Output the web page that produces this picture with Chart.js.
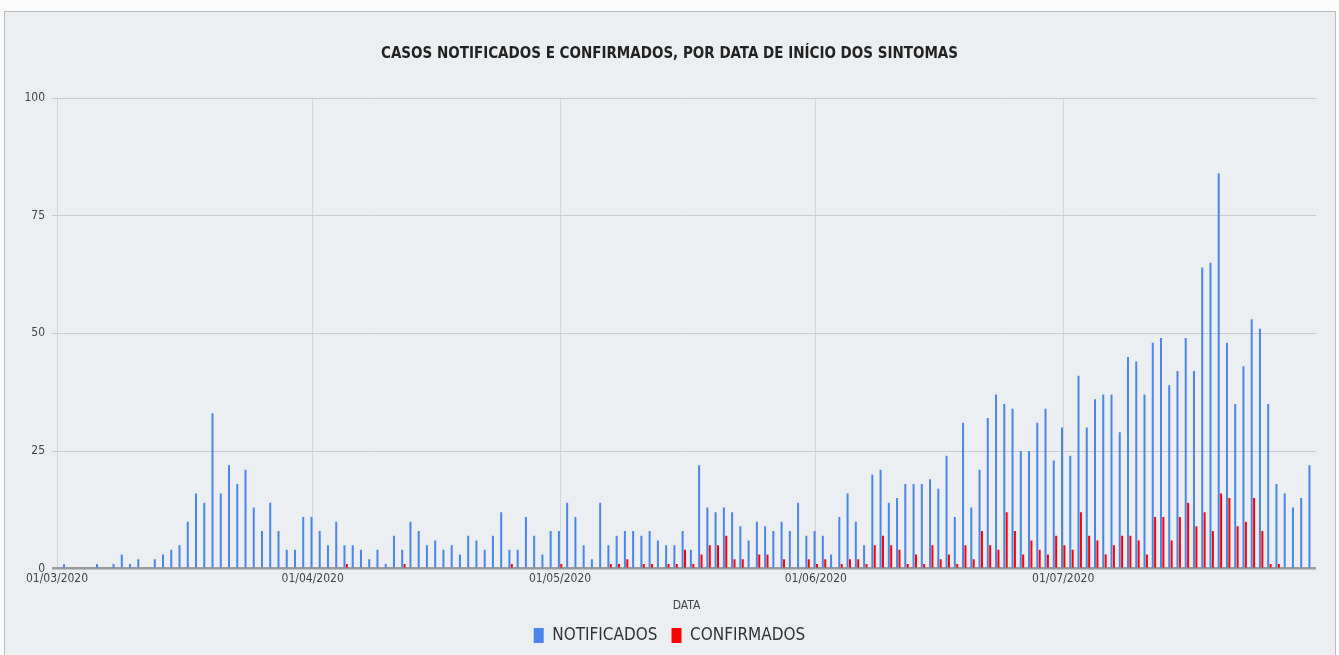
<!DOCTYPE html>
<html>
<head>
<meta charset="utf-8">
<script src="https://cdn.jsdelivr.net/npm/chart.js@4.4.1/dist/chart.umd.min.js"></script>
<style>
  html, body { margin: 0; padding: 0; background: #fbfbfb; overflow: hidden; }
  #card { position: absolute; left: 4px; top: 11px; width: 1332px; height: 660px;
          background: #eceff1; border: 1px solid #bcbcbc; box-sizing: border-box; }
  #c { position: absolute; left: 0; top: 0; }
</style>
</head>
<body>
<div id="card"></div>
<canvas id="c" width="1339" height="655"></canvas>
<script>
// Daily values, 02/03/2020 .. 31/07/2020 (day 1 = 02/03, day 0 = 01/03)
const notificados = [
  1,0,0,0,1,0,1,3,1,2,
  0,2,3,4,5,10,16,14,33,16,
  22,18,21,13,8,14,8,4,4,11,
  11,8,5,10,5,5,4,2,4,1,
  7,4,10,8,5,6,4,5,3,7,
  6,4,7,12,4,4,11,7,3,8,
  8,14,11,5,2,14,5,7,8,8,
  7,8,6,5,5,8,4,22,13,12,
  13,12,9,6,10,9,8,10,8,14,
  7,8,7,3,11,16,10,5,20,21,
  14,15,18,18,18,19,17,24,11,31,
  13,21,32,37,35,34,25,25,31,34,
  23,30,24,41,30,36,37,37,29,45,
  44,37,48,49,39,42,49,42,64,65,
  84,48,35,43,53,51,35,18,16,13,
  15,22
];
const confirmados = [
  0,0,0,0,0,0,0,0,0,0,
  0,0,0,0,0,0,0,0,0,0,
  0,0,0,0,0,0,0,0,0,0,
  0,0,0,0,1,0,0,0,0,0,
  0,1,0,0,0,0,0,0,0,0,
  0,0,0,0,1,0,0,0,0,0,
  1,0,0,0,0,0,1,1,2,0,
  1,1,0,1,1,4,1,3,5,5,
  7,2,2,0,3,3,0,2,0,0,
  2,1,2,0,1,2,2,1,5,7,
  5,4,1,3,1,5,2,3,1,5,
  2,8,5,4,12,8,3,6,4,3,
  7,5,4,12,7,6,3,5,7,7,
  6,3,11,11,6,11,14,9,12,8,
  16,15,9,10,15,8,1,1,0,0,
  0,0
];
// day offsets from 01/03/2020 for each value
const dayIndex = notificados.map((_, i) => i + 1);
const tickDays = [0, 31, 61, 92, 122];
const tickLabels = ['01/03/2020', '01/04/2020', '01/05/2020', '01/06/2020', '01/07/2020'];
const yTicks = [0, 25, 50, 75, 100];

const FONT = "'Liberation Sans Narrow', 'DejaVu Sans Condensed', 'Arial Narrow', 'Roboto Condensed', sans-serif";
Chart.defaults.font.family = FONT;

new Chart(document.getElementById('c'), {
  type: 'bar',
  data: {
    labels: dayIndex,
    datasets: [
      { label: 'NOTIFICADOS', data: notificados, backgroundColor: '#4a86e8',
        categoryPercentage: 0.58, barPercentage: 0.84 },
      { label: 'CONFIRMADOS', data: confirmados, backgroundColor: '#ff0000',
        categoryPercentage: 0.58, barPercentage: 0.84 }
    ]
  },
  options: {
    responsive: false,
    animation: false,
    devicePixelRatio: 1,
    layout: { padding: { left: 23, right: 23, top: 20, bottom: 1 } },
    plugins: {
      tooltip: { enabled: false },
      title: {
        display: true,
        text: 'CASOS NOTIFICADOS E CONFIRMADOS, POR DATA DE INÍCIO DOS SINTOMAS',
        color: '#222',
        font: { size: 15, weight: 'bold', family: FONT, lineHeight: 1.2 },
        padding: { top: 25.6, bottom: 34.4 }
      },
      legend: {
        position: 'bottom',
        labels: {
          color: '#333',
          font: { size: 17, family: FONT },
          boxWidth: 10, boxHeight: 15,
          padding: 14
        }
      }
    },
    scales: {
      x: {
        type: 'linear',
        min: 0,
        max: 152.65,
        offset: false,
        afterBuildTicks: (scale) => { scale.ticks = tickDays.map(v => ({ value: v })); },
        ticks: {
          autoSkip: false, maxRotation: 0, padding: 3,
          color: '#444', font: { size: 12, family: FONT },
          callback: (v, i) => tickLabels[i]
        },
        grid: { offset: false, drawTicks: false, color: '#d3d6d8', lineWidth: 1 },
        border: { display: false },
        title: { display: true, text: 'DATA', color: '#444',
                 font: { size: 12, family: FONT }, padding: { top: 9.5, bottom: 0 } }
      },
      y: {
        min: 0, max: 100,
        afterBuildTicks: (scale) => { scale.ticks = yTicks.map(v => ({ value: v })); },
        afterFit: (scale) => { scale.width = 34; },
        ticks: { color: '#444', font: { size: 12, family: FONT }, padding: 7 },
        grid: {
          drawTicks: true, tickLength: 5,
          color: (ctx) => ctx.tick && ctx.tick.value === 0 ? '#9a9a9a' : '#c9cccf',
          lineWidth: (ctx) => ctx.tick && ctx.tick.value === 0 ? 2.5 : 1
        },
        border: { display: false }
      }
    }
  }
});
</script>
</body>
</html>
